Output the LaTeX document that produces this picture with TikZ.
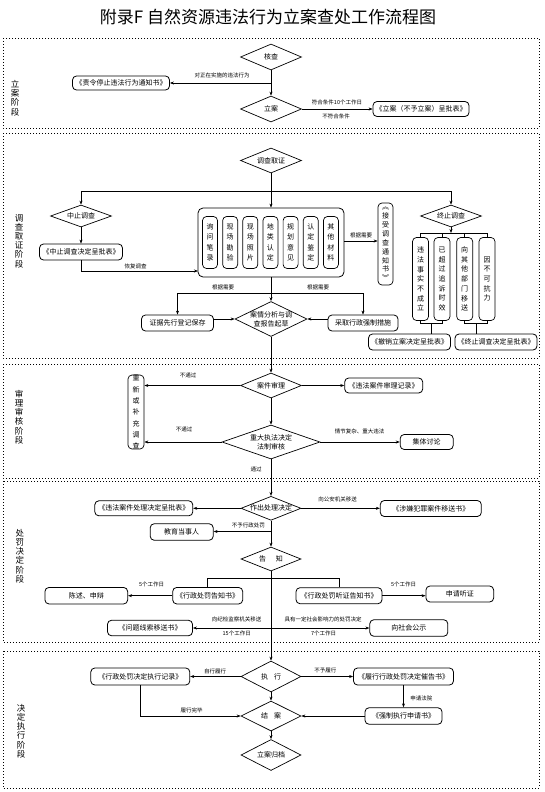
\documentclass[tikz,border=0pt]{standalone}
\usepackage{fontspec}
\setmainfont{Noto Sans CJK SC}
\usetikzlibrary{shapes.geometric,arrows.meta}
\begin{document}
\begin{tikzpicture}[x=1pt,y=-1pt,
  box/.style={draw, rounded corners=4pt, line width=0.8pt, inner sep=0pt, font=\fontsize{7}{8}\selectfont, align=center},
  vbox/.style={draw, rounded corners=4pt, line width=0.7pt, inner sep=0pt, align=center},
  dia/.style={draw, diamond, line width=0.7pt, inner sep=0pt},
  lbl/.style={font=\fontsize{5.5}{6}\selectfont, inner sep=0pt},
  dtext/.style={font=\fontsize{7}{9}\selectfont, align=center, inner sep=0pt},
  arr/.style={-{Stealth[length=4pt,width=3pt]}, line width=0.6pt},
  ln/.style={line width=0.6pt},
  stagebox/.style={line width=0.8pt, dash pattern=on 0.9pt off 2.1pt},
  stl/.style={font=\fontsize{8.5}{9.2}\selectfont, align=center, inner sep=0pt},
]
\useasboundingbox (0,0) rectangle (544,792);
\fill[white] (0,0) rectangle (544,792);

% title
\node[font=\fontsize{17}{20}\selectfont, inner sep=0pt] (title) at (268,17) {附录F 自然资源违法行为立案查处工作流程图};

% stage frames
\draw[stagebox] (3,38) rectangle (539,128);
\draw[stagebox] (3,133) rectangle (539,358);
\draw[stagebox] (3,364) rectangle (539,478);
\draw[stagebox] (3,481) rectangle (539,642);
\draw[stagebox] (3,651) rectangle (539,788);

\node[stl] (s1) at (15,98) {立\\案\\阶\\段};
\node[stl] (s2) at (19,241) {调\\查\\取\\证\\阶\\段};
\node[stl] (s3) at (19,417) {审\\理\\审\\核\\阶\\段};
\node[stl] (s4) at (20,556) {处\\罚\\决\\定\\阶\\段};
\node[stl] (s5) at (21,731) {决\\定\\执\\行\\阶\\段};

% ---------- stage 1
\node[dia, minimum width=61pt, minimum height=26pt, label={[dtext]center:核查}] (hc) at (271,57) {};
\node[box, minimum width=97pt, minimum height=14pt] (zl) at (121,83) {《责令停止违法行为通知书》};
\node[dia, minimum width=61pt, minimum height=26pt, label={[dtext]center:立案}] (la) at (271,109) {};
\node[box, minimum width=96pt, minimum height=15pt] (lab) at (421,109) {《立案（不予立案）呈批表》};
\coordinate (b1) at (271,83);
\draw[arr] (hc.south) -- (la.north);
\draw[arr] (b1) -- (zl.east);
\node[lbl] (l1) at (222,75.5) {对正在实施的违法行为};
\draw[arr] (la.east) -- (lab.west);
\node[lbl] (l2) at (337,102.5) {符合条件10个工作日};
\node[lbl] (l3) at (336,116) {不符合条件};

% ---------- stage 2
\node[dia, minimum width=61pt, minimum height=25pt, label={[dtext]center:调查取证}] (dc) at (271,160.5) {};
\coordinate (bm) at (271,191);
\coordinate (bl) at (81,191);
\coordinate (br) at (451,191);
\draw[ln] (dc.south) -- (bm);
\draw[line width=1pt] (bl) -- (br);
\node[dia, minimum width=61pt, minimum height=22pt, label={[dtext]center:中止调查}] (zz) at (81,216) {};
\node[box, minimum width=83pt, minimum height=16pt] (zzb) at (81,252) {《中止调查决定呈批表》};
\node[dia, minimum width=61pt, minimum height=22pt, label={[dtext]center:终止调查}] (zzd) at (451,216) {};
\draw[arr] (bl) -- (zz.north);
\draw[arr] (br) -- (zzd.north);

\node[draw, rounded corners=5pt, line width=0.8pt, minimum width=146pt, minimum height=69pt, inner sep=0pt] (mat) at (271,242.5) {};
\foreach \i/\t in {0/询\\问\\笔\\录, 1/现\\场\\勘\\验, 2/现\\场\\照\\片, 3/地\\类\\认\\定, 4/规\\划\\意\\见, 5/认\\定\\鉴\\定, 6/其\\他\\材\\料}{
  \node[vbox, minimum width=15pt, minimum height=52pt, font=\fontsize{7}{10.5}\selectfont] (m\i) at ({210+20.15*\i},242.5) {\t};
}
\draw[arr] (bm) -- (mat.north);
\draw[arr] (zz.south) -- (zzb.north);
\coordinate (mw) at (198,271);
\draw[arr] (zzb.south) |- (mw);
\node[lbl] (l4) at (135.5,266.5) {恢复调查};

\node[vbox, minimum width=15pt, minimum height=82pt, font=\fontsize{7}{8.9}\selectfont] (jsd) at (385.5,244) {︽\\接\\受\\调\\查\\通\\知\\书\\︾};
\coordinate (me) at (344,241);
\draw[arr] (me) -- (me -| jsd.west);
\node[lbl] (l5) at (361,235) {根据需要};

\coordinate (zb) at (451,233);
\node[vbox, minimum width=16pt, minimum height=83pt, font=\fontsize{7}{9.7}\selectfont] (t1) at (420.5,279) {违\\法\\事\\实\\不\\成\\立};
\node[vbox, minimum width=16pt, minimum height=83pt, font=\fontsize{7}{9.7}\selectfont] (t2) at (442,279) {已\\超\\过\\追\\诉\\时\\效};
\node[vbox, minimum width=16pt, minimum height=83pt, font=\fontsize{7}{9.7}\selectfont] (t3) at (464.7,279) {向\\其\\他\\部\\门\\移\\送};
\node[vbox, minimum width=16pt, minimum height=83pt, font=\fontsize{7}{9.7}\selectfont] (t4) at (487,279) {因\\不\\可\\抗\\力};
\draw[arr] (zzd.south) -- (zb);
\draw[ln] (t1.north |- zb) -- (t4.north |- zb);
\foreach \k in {t1,t2,t3,t4}{ \draw[ln] (\k.north |- zb) -- (\k.north); }
\coordinate (p12) at (431.25,323.5);
\coordinate (p34) at (475.85,323.5);
\draw[ln] (t1.south) |- (p12) -| (t2.south);
\draw[ln] (t3.south) |- (p34) -| (t4.south);
\node[box, minimum width=82pt, minimum height=16pt] (cx) at (409.5,342) {《撤销立案决定呈批表》};
\node[box, minimum width=82pt, minimum height=16pt] (zzt) at (496,342) {《终止调查决定呈批表》};
\draw[ln] (p12) -- (p12 |- cx.north);
\draw[ln] (p34) -- (p34 |- zzt.north);

\node[dia, minimum width=72pt, minimum height=35pt, label={[dtext]center:案情分析与调\\查报告起草}] (ax) at (271,319) {};
\node[box, minimum width=72pt, minimum height=16pt] (zjb) at (177.5,323) {证据先行登记保存};
\node[box, minimum width=70pt, minimum height=16pt] (cq) at (363,323) {采取行政强制措施};
\coordinate (c293) at (271,293);
\draw[ln] (zjb.north |- c293) -- (cq.north |- c293);
\draw[arr] (zjb.north |- c293) -- (zjb.north);
\draw[arr] (cq.north |- c293) -- (cq.north);
\draw[arr] (mat.south) -- (ax.north);
\node[lbl] (l6) at (223,287) {根据需要};
\node[lbl] (l7) at (318,287) {根据需要};
\draw[arr] (zjb.east |- ax.west) -- (ax.west);
\draw[arr] (cq.west |- ax.east) -- (ax.east);

% ---------- stage 3
\node[dia, minimum width=61pt, minimum height=25pt, label={[dtext]center:案件审理}] (sl) at (271,385.5) {};
\node[vbox, minimum width=16pt, minimum height=71pt, font=\fontsize{7}{11.3}\selectfont] (cb) at (136,412) {重\\新\\或\\补\\充\\调\\查};
\node[box, minimum width=78pt, minimum height=15pt] (jl) at (383.7,385.5) {《违法案件审理记录》};
\node[dia, minimum width=98pt, minimum height=34pt, label={[dtext]center:重大执法决定\\法制审核}] (zd) at (271,442) {};
\node[box, minimum width=53pt, minimum height=15pt] (jt) at (426.7,442) {集体讨论};
\draw[arr] (ax.south) -- (sl.north);
\draw[arr] (sl.west) -- (cb.east |- sl.west);
\draw[arr] (sl.east) -- (jl.west |- sl.east);
\draw[arr] (sl.south) -- (zd.north);
\draw[arr] (zd.west) -- (cb.east |- zd.west);
\draw[arr] (zd.east) -- (jt.west |- zd.east);
\node[lbl] (l8) at (188,375) {不通过};
\node[lbl] (l9) at (184,429.5) {不通过};
\node[lbl] (l10) at (359.5,431) {情节复杂、重大违法};
\node[lbl] (l11) at (256,469.5) {通过};

% ---------- stage 4
\node[dia, minimum width=60pt, minimum height=24pt, label={[dtext]center:作出处理决定}] (cc) at (271,508.3) {};
\node[box, minimum width=98pt, minimum height=15pt] (cp) at (143.8,508.3) {《违法案件处理决定呈批表》};
\node[box, minimum width=101pt, minimum height=16pt] (yj) at (430.8,508.5) {《涉嫌犯罪案件移送书》};
\node[box, minimum width=63pt, minimum height=16.5pt] (jy) at (181.7,532) {教育当事人};
\draw[arr] (zd.south) -- (cc.north);
\draw[arr] (cc.west) -- (cp.east |- cc.west);
\draw[arr] (cc.east) -- (yj.west |- cc.east);
\node[lbl] (l12) at (337.7,499) {向公安机关移送};
\coordinate (b531) at (271,531.5);
\draw[arr] (b531) -- (jy.east |- b531);
\node[lbl] (l13) at (248.3,525.5) {不予行政处罚};

\node[dia, minimum width=60pt, minimum height=24pt, label={[dtext]center:告\hspace{10pt}知}] (gz) at (271,559) {};
\draw[arr] (cc.south) -- (gz.north);
\node[box, minimum width=70pt, minimum height=16.5pt] (gzs) at (207.7,595.7) {《行政处罚告知书》};
\node[box, minimum width=86pt, minimum height=16pt] (tzs) at (339,595.7) {《行政处罚听证告知书》};
\node[box, minimum width=82.7pt, minimum height=16.5pt] (cs) at (86.3,595.7) {陈述、申辩};
\node[box, minimum width=67.7pt, minimum height=16pt] (sq) at (459.8,594) {申请听证};
\coordinate (b578) at (271,578);
\draw[ln] (gzs.north |- b578) -- (tzs.north |- b578);
\draw[ln] (gzs.north |- b578) -- (gzs.north);
\draw[ln] (tzs.north |- b578) -- (tzs.north);
\draw[arr] (gzs.west) -- (cs.east |- gzs.west);
\draw[arr] (tzs.east) -- (sq.west |- tzs.east);
\node[lbl] (l14) at (151.7,584) {5个工作日};
\node[lbl] (l15) at (403.7,584) {5个工作日};

\node[box, minimum width=85pt, minimum height=15.5pt] (wt) at (150,628) {《问题线索移送书》};
\node[box, minimum width=78pt, minimum height=16.5pt] (gs) at (408.8,628) {向社会公示};
\coordinate (b628) at (271,628);
\draw[arr] (b628) -- (wt.east |- b628);
\draw[arr] (b628) -- (gs.west |- b628);
\node[lbl] (l16) at (236.7,619.5) {向纪检监察机关移送};
\node[lbl] (l17) at (236.7,633) {15个工作日};
\node[lbl] (l18) at (323,619.5) {具有一定社会影响力的处罚决定};
\node[lbl] (l19) at (323.7,633) {7个工作日};

% ---------- stage 5
\node[dia, minimum width=60pt, minimum height=31pt, label={[dtext]center:执\hspace{6pt}行}] (zx) at (271,676.5) {};
\node[dia, minimum width=60pt, minimum height=30pt, label={[dtext]center:结\hspace{6pt}案}] (ja) at (271,716) {};
\node[dia, minimum width=60pt, minimum height=31pt, label={[dtext]center:立案归档}] (gd) at (271,755) {};
\draw[arr] (gz.south) -- (zx.north);
\draw[arr] (zx.south) -- (ja.north);
\draw[arr] (ja.south) -- (gd.north);

\node[box, minimum width=99pt, minimum height=17pt] (jl2) at (140.3,676.5) {《行政处罚决定执行记录》};
\node[box, minimum width=100pt, minimum height=17pt] (cg) at (403.5,676.5) {《履行行政处罚决定催告书》};
\node[box, minimum width=77pt, minimum height=16.5pt] (qz) at (403.5,716) {《强制执行申请书》};
\draw[arr] (zx.west) -- (jl2.east |- zx.west);
\draw[arr] (jl2.south) |- (ja.west);
\draw[arr] (zx.east) -- (cg.west |- zx.east);
\draw[arr] (cg.south) -- (qz.north);
\draw[arr] (qz.west) -- (ja.east |- qz.west);
\node[lbl] (l20) at (215,671) {自行履行};
\node[lbl] (l21) at (191.7,710.5) {履行完毕};
\node[lbl] (l22) at (325.3,670) {不予履行};
\node[lbl] (l23) at (421.3,698.3) {申请法院};
\end{tikzpicture}
\end{document}
